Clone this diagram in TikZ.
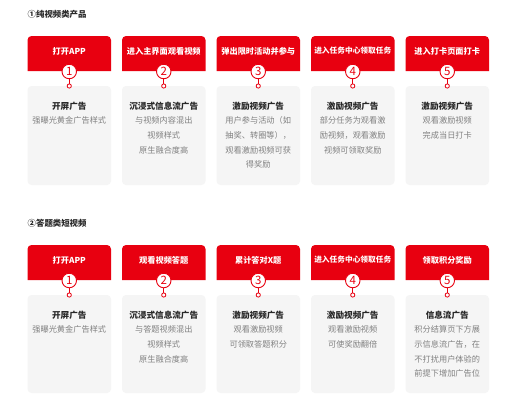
\documentclass[tikz,border=0pt]{standalone}
\usepackage{fontspec}
\setmainfont{Noto Sans CJK SC}
\definecolor{hred}{RGB}{232,0,16}
\definecolor{cardgray}{RGB}{245,245,245}
\definecolor{bodygray}{RGB}{128,128,128}
\definecolor{titlec}{RGB}{40,40,40}
\tikzset{
  hdrtext/.style={text=white, font=\fontsize{8.2}{10}\selectfont\bfseries, inner sep=0pt},
  numc/.style={circle, draw=hred, fill=white, line width=0.9pt, minimum size=14.5pt, inner sep=0pt, text=hred, font=\fontsize{11.5}{11.5}\selectfont},
  dotc/.style={circle, draw=hred, fill=white, line width=0.8pt, minimum size=4.2pt, inner sep=0pt},
  link/.style={draw=hred, line width=0.8pt},
  bodytext/.style={align=center, inner sep=0pt, text=bodygray, font=\fontsize{8.2}{14.7}\selectfont, anchor=north},
  sectitle/.style={anchor=west, inner sep=0pt, text=titlec, font=\fontsize{8.4}{10}\selectfont\bfseries},
}
% #1 id, #2 cx, #3 header top, #4 number, #5 header, #6 card height, #7 title, #8 body
\newcommand\mycol[8]{%
  \fill[cardgray, rounded corners=4pt] ({#2-41.75},{#3+50}) rectangle ({#2+41.75},{#3+50+#6});
  \fill[hred] ({#2-41.75},{#3+35}) [rounded corners=4pt] -- ({#2-41.75},{#3}) -- ({#2+41.75},{#3}) [sharp corners] -- ({#2+41.75},{#3+35}) -- cycle;
  \node[hdrtext] (h#1) at ({#2},{#3+15}) {#5};
  \node[numc] (n#1) at ({#2},{#3+35.5}) {#4};
  \node[dotc] (d#1) at ({#2},{#3+50}) {};
  \draw[link] (n#1) -- (d#1);
  \node[bodytext] (b#1) at ({#2},{#3+65.5}) {{\fontsize{8.6}{14.7}\selectfont\bfseries\color{titlec}#7}\\#8};
}
\newcommand\smallhdr[1]{{\fontsize{7.7}{10}\selectfont #1}}
\begin{document}
\begin{tikzpicture}[x=1pt,y=-1pt]
\fill[white] (0,0) rectangle (510,400);
\useasboundingbox (0,0) rectangle (510,400);
\node[sectitle] (s1) at (27.5,14) {①纯视频类产品};
\mycol{a1}{69.25}{36}{1}{打开APP}{99}{开屏广告}{强曝光黄金广告样式}
\mycol{a2}{163.75}{36}{2}{进入主界面观看视频}{99}{沉浸式信息流广告}{与视频内容混出\\视频样式\\原生融合度高}
\mycol{a3}{258.25}{36}{3}{弹出限时活动并参与}{99}{激励视频广告}{用户参与活动（如\\抽奖、转圈等），\\观看激励视频可获\\得奖励}
\mycol{a4}{352.75}{36}{4}{\smallhdr{进入任务中心领取任务}}{99}{激励视频广告}{部分任务为观看激\\励视频，观看激励\\视频可领取奖励}
\mycol{a5}{447.25}{36}{5}{进入打卡页面打卡}{99}{激励视频广告}{观看激励视频\\完成当日打卡}
\node[sectitle] (s2) at (27.5,223) {②答题类短视频};
\mycol{b1}{69.25}{245}{1}{打开APP}{98}{开屏广告}{强曝光黄金广告样式}
\mycol{b2}{163.75}{245}{2}{观看视频答题}{98}{沉浸式信息流广告}{与答题视频混出\\视频样式\\原生融合度高}
\mycol{b3}{258.25}{245}{3}{累计答对X题}{98}{激励视频广告}{观看激励视频\\可领取答题积分}
\mycol{b4}{352.75}{245}{4}{\smallhdr{进入任务中心领取任务}}{98}{激励视频广告}{观看激励视频\\可使奖励翻倍}
\mycol{b5}{447.25}{245}{5}{领取积分奖励}{98}{信息流广告}{积分结算页下方展\\示信息流广告，在\\不打扰用户体验的\\前提下增加广告位}
\end{tikzpicture}
\end{document}
